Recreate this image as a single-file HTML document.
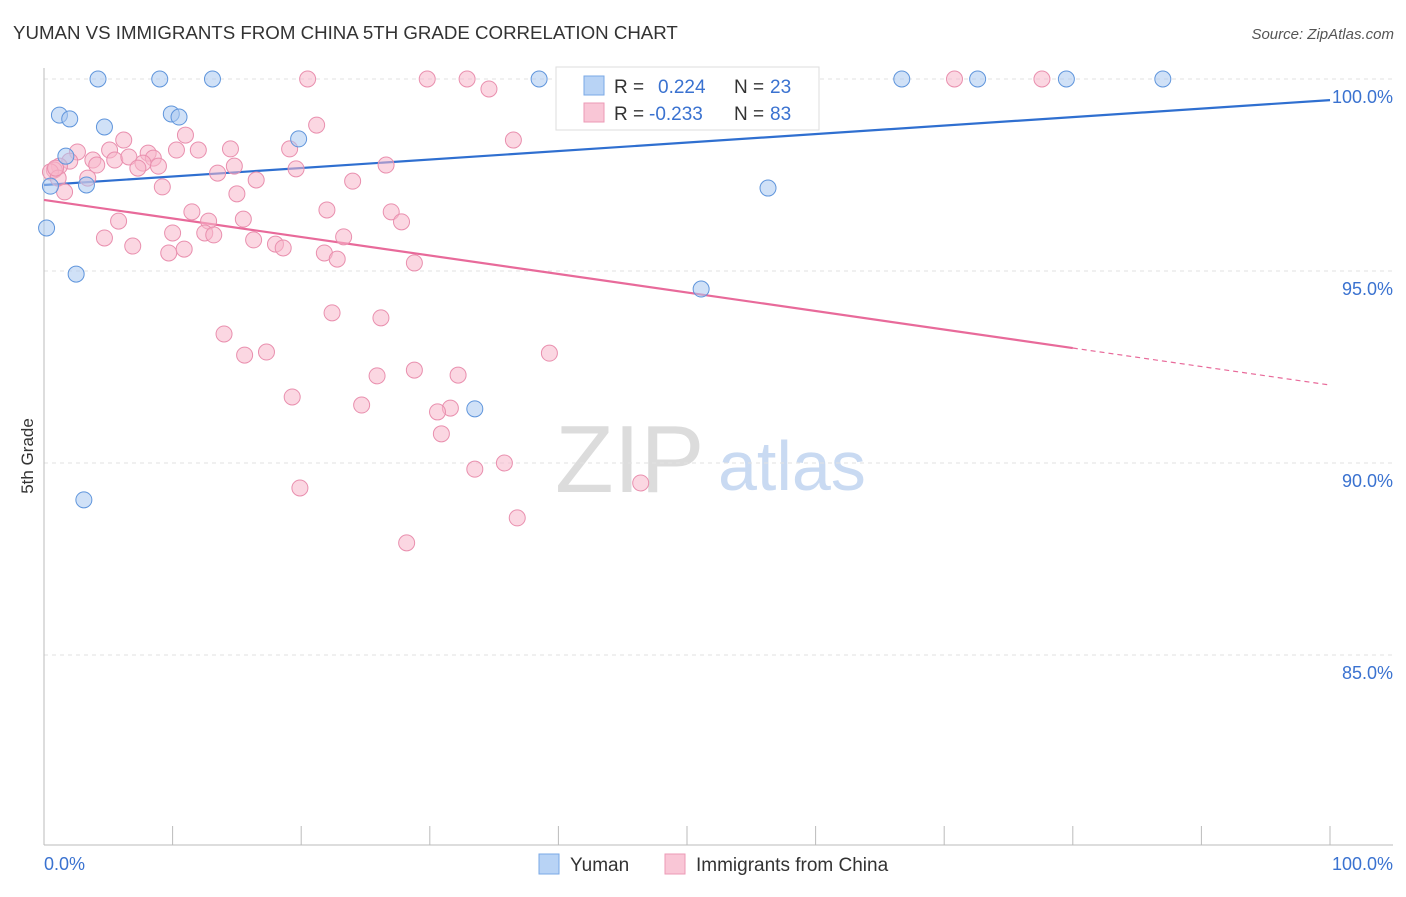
<!DOCTYPE html>
<html><head><meta charset="utf-8"><style>
body{margin:0;background:#fff;font-family:"Liberation Sans",sans-serif;}
svg text{font-family:"Liberation Sans",sans-serif;}
</style></head><body>
<svg id="chart" width="1406" height="892" xmlns="http://www.w3.org/2000/svg">
<text x="13" y="39" font-size="18.7" fill="#333">YUMAN VS IMMIGRANTS FROM CHINA 5TH GRADE CORRELATION CHART</text>
<text x="1394" y="39" font-size="15" fill="#555" font-style="italic" text-anchor="end">Source: ZipAtlas.com</text>
<text transform="translate(33,456) rotate(-90)" font-size="17" fill="#333" text-anchor="middle">5th Grade</text>
<g>
<text x="555" y="492" font-size="96" fill="#dcdcdc" font-family="Liberation Serif,serif">ZIP</text>
<text x="718" y="490" font-size="70" fill="#c9daf2">atlas</text>
</g>
<g id="grid"></g><g id="axes"></g><g id="lines"></g><g id="pts"></g>
<g>
<rect x="556" y="67" width="263" height="63" fill="#fff" stroke="#ddd"/>
<rect x="584" y="76" width="20" height="19" fill="#b8d3f5" stroke="#7aa8e6"/>
<text x="614" y="93" font-size="19" fill="#333">R = </text><text x="658" y="93" font-size="19" fill="#3a72d0">0.224</text>
<text x="734" y="93" font-size="19" fill="#333">N = </text><text x="770" y="93" font-size="19" fill="#3a72d0">23</text>
<rect x="584" y="103" width="20" height="19" fill="#f9c6d6" stroke="#ec9ab6"/>
<text x="614" y="120" font-size="19" fill="#333">R = </text><text x="649" y="120" font-size="19" fill="#3a72d0">-0.233</text>
<text x="734" y="120" font-size="19" fill="#333">N = </text><text x="770" y="120" font-size="19" fill="#3a72d0">83</text>
</g>
<g>
<rect x="539" y="854" width="20" height="20" fill="#b8d3f5" stroke="#7aa8e6"/>
<text x="570" y="871" font-size="19" fill="#333">Yuman</text>
<rect x="665" y="854" width="20" height="20" fill="#f9c6d6" stroke="#ec9ab6"/>
<text x="696" y="871" font-size="19" fill="#333">Immigrants from China</text>
</g>
</svg>
<script>
const yTicks=[100,95,90,85];
const yTickLabels=["100.0%","95.0%","90.0%","85.0%"];
const xTicks=[0,10,20,30,40,50,60,70,80,90,100];
const xEndLabels=["0.0%","100.0%"];
const yumanX=[4.2,9.0,13.1,38.5,66.7,72.6,79.5,87.0,1.2,2.0,4.7,9.9,10.5,19.8,1.7,3.3,0.5,0.2,2.5,51.1,56.3,33.5,3.1];
const yumanY=[100,100,100,100,100,100,100,100,99.06,98.96,98.75,99.09,99.01,98.44,97.99,97.24,97.21,96.12,94.92,94.53,97.16,91.41,89.04];
const chinaX=[20.5,29.8,32.9,40.9,70.8,77.6,34.6,21.2,36.5,6.2,11.0,5.1,2.6,8.1,8.5,14.5,12.0,10.3,19.1,3.8,5.5,6.6,7.7,8.9,7.3,4.1,2.0,1.2,0.8,0.5,1.1,3.4,1.6,9.2,13.5,14.8,16.5,19.6,26.6,24.0,15.0,11.5,12.8,15.5,22.0,27.0,27.8,5.8,10.0,12.5,13.2,4.7,6.9,10.9,9.7,16.3,18.0,18.6,23.3,21.8,22.8,28.8,14.0,22.4,26.2,15.6,17.3,39.3,25.9,28.8,32.2,19.3,24.7,31.6,30.6,30.9,33.5,35.8,19.9,46.4,36.8,28.2,0.9];
const chinaY=[100,100,100,100,100,100,99.74,98.80,98.41,98.41,98.54,98.15,98.10,98.07,97.94,98.18,98.15,98.15,98.18,97.89,97.89,97.97,97.81,97.73,97.68,97.76,97.86,97.73,97.63,97.58,97.42,97.42,97.06,97.19,97.55,97.73,97.37,97.66,97.76,97.34,97.01,96.54,96.30,96.35,96.59,96.54,96.28,96.30,95.99,95.99,95.94,95.86,95.65,95.57,95.47,95.81,95.70,95.60,95.89,95.47,95.31,95.21,93.36,93.91,93.78,92.81,92.89,92.86,92.27,92.42,92.29,91.72,91.51,91.43,91.33,90.76,89.84,90.00,89.35,89.48,88.57,87.92,97.68];
const yumanTrend=[97.24,99.45];
const chinaTrend=[96.85,92.03];
const chinaSolidEnd=80;

const NS="http://www.w3.org/2000/svg";
const X=v=>44+v*12.86;
const Y=v=>79+(100-v)*38.4;
function mk(tag,attrs,parent){const e=document.createElementNS(NS,tag);for(const k in attrs)e.setAttribute(k,attrs[k]);document.getElementById(parent).appendChild(e);return e;}
yTicks.forEach((t,i)=>{
 let l=mk('line',{x1:44,x2:1393,y1:Y(t),y2:Y(t),stroke:'#e2e2e2','stroke-dasharray':'4,4'},'grid');
 
 
 let tx=mk('text',{x:1393,y:Y(t)+24,'font-size':18,fill:'#3a72d0','text-anchor':'end'},'grid');
 tx.textContent=yTickLabels[i];
 
 
});
let ax=mk('line',{x1:44,x2:44,y1:68,y2:845,stroke:'#bbb'},'axes');


let bx=mk('line',{x1:44,x2:1393,y1:845,y2:845,stroke:'#bbb'},'axes');


xTicks.forEach(t=>{
 let l=mk('line',{x1:X(t),x2:X(t),y1:826,y2:845,stroke:'#bbb'},'axes');
 
 
});
[[0,'start',44],[100,'end',1393]].forEach((d,i)=>{
 let tx=mk('text',{x:d[2],y:870,'font-size':18,fill:'#3a72d0','text-anchor':d[1]},'axes');
 tx.textContent=xEndLabels[i];
 
 
});
function dot(x,y,fill,stroke,name){
 let c=mk('circle',{cx:X(x),cy:Y(y),r:8,fill:fill,'fill-opacity':0.55,stroke:stroke,'stroke-width':1},'pts');
 
 
}
chinaX.forEach((x,i)=>dot(x,chinaY[i],'#f7b6ca','#e98fae','china-point'));
yumanX.forEach((x,i)=>dot(x,yumanY[i],'#a9c8f0','#5f95dc','yuman-point'));
let bl=mk('line',{x1:X(0),y1:Y(yumanTrend[0]),x2:X(100),y2:Y(yumanTrend[1]),stroke:'#2f6fd0','stroke-width':2.2},'lines');


const cy=v=>chinaTrend[0]+(chinaTrend[1]-chinaTrend[0])*v/100;
let pl=mk('line',{x1:X(0),y1:Y(cy(0)),x2:X(chinaSolidEnd),y2:Y(cy(chinaSolidEnd)),stroke:'#e86a9a','stroke-width':2.2},'lines');


let pd=mk('line',{x1:X(chinaSolidEnd),y1:Y(cy(chinaSolidEnd)),x2:X(100),y2:Y(cy(100)),stroke:'#e86a9a','stroke-width':1.2,'stroke-dasharray':'5,4'},'lines');


</script>
</body></html>
